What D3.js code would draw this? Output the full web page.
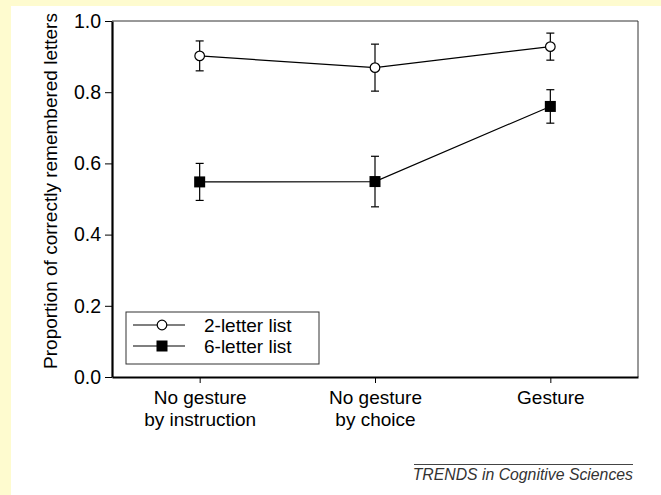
<!DOCTYPE html>
<html>
<head>
<meta charset="utf-8">
<script src="https://cdn.jsdelivr.net/npm/d3@7/dist/d3.min.js"></script>
<style>
  html, body { margin: 0; padding: 0; background: #fefbcf; }
  svg { display: block; font-family: "Liberation Sans", Arial, Helvetica, sans-serif; }
</style>
</head>
<body>
<div id="chart"></div>
<script>
/*
 * Globals: d3
 */
var categories = [['No gesture', 'by instruction'], ['No gesture', 'by choice'], ['Gesture']];
var seriesNames = ['2-letter list', '6-letter list'];
var twoLetter = [0.902, 0.869, 0.928];
var twoLetterErr = [0.042, 0.066, 0.038];
var sixLetter = [0.548, 0.549, 0.760];
var sixLetterErr = [0.052, 0.071, 0.047];
var yTicks = [0, 0.2, 0.4, 0.6, 0.8, 1.0];

(function() {
  var width = 661;
  var height = 495;
  var margin = { top: 21, right: 23, bottom: 118, left: 112 };
  var plotW = width - margin.left - margin.right;
  var plotH = height - margin.top - margin.bottom;
  var fontSize = 19;

  var svg = d3.select('#chart').append('svg').attr('width', width).attr('height', height);

  // white panel on the yellow page
  svg.append('rect').attr('x', 11).attr('y', 6).attr('width', width - 11).attr('height', height - 6).attr('fill', '#ffffff');

  var x = d3.scalePoint().domain(d3.range(categories.length)).range([0, plotW]).padding(0.5);
  var y = d3.scaleLinear().domain([0, 1]).range([plotH, 0]);

  var g = svg.append('g').attr('transform', 'translate(' + margin.left + ',' + margin.top + ')');

  // thin frame top / right
  g.append('line').attr('x1', 0).attr('x2', plotW).attr('y1', 0).attr('y2', 0).attr('stroke', '#333').attr('stroke-width', 1);
  g.append('line').attr('x1', plotW).attr('x2', plotW).attr('y1', 0).attr('y2', plotH).attr('stroke', '#333').attr('stroke-width', 1);

  // y axis
  var yAxis = g.append('g')
    .call(d3.axisLeft(y).tickValues(yTicks).tickFormat(d3.format('.1f')).tickSize(7).tickSizeOuter(0).tickPadding(4));
  yAxis.select('.domain').attr('stroke-width', 2.2);
  yAxis.selectAll('text').attr('font-size', 19.5).attr('fill', '#000').attr('font-family', null);

  // x axis
  var xAxis = g.append('g').attr('transform', 'translate(0,' + plotH + ')')
    .call(d3.axisBottom(x).tickSize(6).tickSizeOuter(0).tickFormat(''));
  xAxis.select('.domain').attr('stroke-width', 2.2);
  xAxis.selectAll('.tick').each(function(d) {
    var t = d3.select(this).append('text').attr('fill', '#000').attr('font-size', fontSize).attr('text-anchor', 'middle');
    categories[d].forEach(function(line, i) {
      t.append('tspan').attr('x', 0).attr('y', 27 + i * 22).text(line);
    });
  });

  // y axis title
  g.append('text')
    .attr('transform', 'translate(' + (57 - margin.left) + ',' + (plotH / 2 - 8) + ') rotate(-90)')
    .attr('text-anchor', 'middle')
    .attr('font-size', fontSize)
    .attr('fill', '#000')
    .text('Proportion of correctly remembered letters');

  var line = d3.line().x(function(d, i) { return x(i); }).y(function(d) { return y(d); });

  function drawSeries(values, errs, shape) {
    var s = g.append('g');
    s.append('path').datum(values).attr('d', line).attr('fill', 'none').attr('stroke', '#000').attr('stroke-width', 1.2);
    values.forEach(function(v, i) {
      var cx = x(i);
      var lo = y(v - errs[i]);
      var hi = y(v + errs[i]);
      s.append('line').attr('x1', cx).attr('x2', cx).attr('y1', lo).attr('y2', hi).attr('stroke', '#000').attr('stroke-width', 1.2);
      [lo, hi].forEach(function(yy) {
        s.append('line').attr('x1', cx - 4).attr('x2', cx + 4).attr('y1', yy).attr('y2', yy).attr('stroke', '#000').attr('stroke-width', 1.2);
      });
      drawMarker(s, shape, cx, y(v));
    });
  }

  function drawMarker(sel, shape, cx, cy) {
    if (shape === 'circle') {
      sel.append('circle').attr('cx', cx).attr('cy', cy).attr('r', 4.8).attr('fill', '#fff').attr('stroke', '#000').attr('stroke-width', 1.2);
    } else {
      sel.append('rect').attr('x', cx - 5.5).attr('y', cy - 5.5).attr('width', 11).attr('height', 11).attr('fill', '#000');
    }
  }

  drawSeries(twoLetter, twoLetterErr, 'circle');
  drawSeries(sixLetter, sixLetterErr, 'square');

  // legend
  var legend = svg.append('g').attr('transform', 'translate(126,312)');
  legend.append('rect').attr('width', 193).attr('height', 52).attr('fill', '#fff').attr('stroke', '#333').attr('stroke-width', 1);
  ['circle', 'square'].forEach(function(shape, i) {
    var ly = 13 + i * 21;
    legend.append('line').attr('x1', 7).attr('x2', 59).attr('y1', ly).attr('y2', ly).attr('stroke', '#000').attr('stroke-width', 1.2);
    drawMarker(legend, shape, 36, ly);
    legend.append('text').attr('x', 78).attr('y', ly + 6.5).attr('font-size', fontSize).attr('fill', '#000').text(seriesNames[i]);
  });

  // footer
  svg.append('line').attr('x1', 414).attr('x2', 633).attr('y1', 464.5).attr('y2', 464.5).attr('stroke', '#444').attr('stroke-width', 1);
  svg.append('text').attr('x', 633).attr('y', 480).attr('text-anchor', 'end')
    .attr('font-size', 15.8).attr('font-style', 'italic').attr('fill', '#333')
    .text('TRENDS in Cognitive Sciences');
}).call(this);
</script>
</body>
</html>
